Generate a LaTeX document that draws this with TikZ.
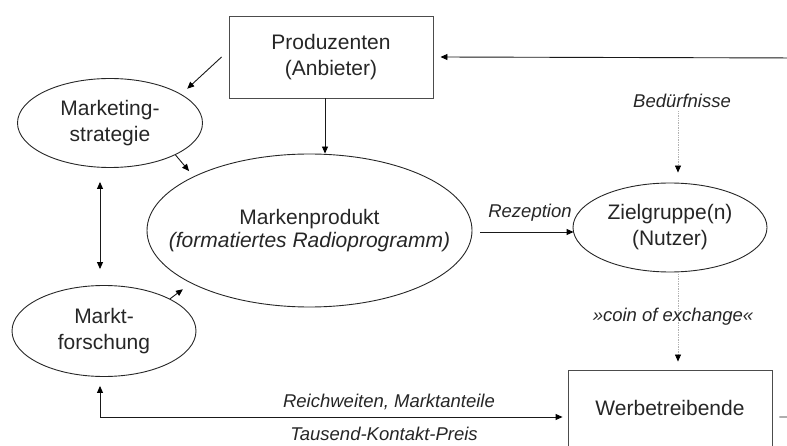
\documentclass[tikz,border=0pt]{standalone}
\usepackage{fontspec}
\setmainfont{Liberation Sans}
\usetikzlibrary{shapes.geometric,arrows.meta,calc}
\begin{document}
\begin{tikzpicture}[x=1pt,y=-1pt,
  every node/.style={font=\fontsize{21}{26}\selectfont, text=black!85},
  ell/.style={draw=black!85, ellipse, inner sep=0pt, line width=0.9pt, align=center},
  box/.style={draw=black!70, rectangle, inner sep=0pt, line width=0.9pt, align=center},
  lbl/.style={font=\fontsize{18.5}{22}\selectfont\itshape},
  tip/.tip={Triangle[length=7pt,width=6pt,color=black]},
  arr/.style={draw=black!90, line width=0.9pt, -tip},
  darr/.style={draw=black!90, line width=0.9pt, tip-tip},
  dotarr/.style={draw=gray!60, line width=0.7pt, densely dotted, -tip},
]
\useasboundingbox (0,0) rectangle (787,446);
\clip (0,0) rectangle (787,446);

% nodes
\node[box, minimum width=204pt, minimum height=82pt] (prod) at (331,57) {Produzenten\\(Anbieter)};
\node[ell, minimum width=185pt, minimum height=89pt] (ms) at (110,123) {Marketing-\\strategie};
\node[ell, minimum width=325pt, minimum height=153pt,
      label={[align=center, font=\fontsize{21}{23}\selectfont]center:Markenprodukt\\\textit{(formatiertes Radioprogramm)}}] (mp) at (309.5,230.5) {};
\node[ell, minimum width=184pt, minimum height=91pt] (mf) at (104,331) {Markt-\\forschung};
\node[ell, minimum width=194pt, minimum height=89pt] (zg) at (670,227.5) {Zielgruppe(n)\\(Nutzer)};
\node[box, minimum width=204pt, minimum height=76pt] (wb) at (670,408) {Werbetreibende};
\node[lbl] (bed) at (682,101) {Bedürfnisse};

% connectors
\draw[arr, shorten >=8pt] ($(prod.west)+(-7,0)$) -- (ms.22);
\draw[arr] ($(prod.south)+(-6,0)$) -- ($(mp.north)+(15.5,0)$);
\draw[arr, shorten >=7pt] (ms.-26) -- (mp.155);
\draw[arr, shorten >=10pt] (mf.26) -- (mp.204);
\draw[darr] ($(ms.south)+(-10,14)$) -- ($(mf.north)+(-4,-16)$);
\draw[arr] ($(mp.east)+(8,1.5)$) -- ($(zg.west)+(1,4.5)$)
  node[lbl, midway, anchor=base, yshift=14pt, xshift=3pt] {Rezeption};
\draw[dotarr] ($(bed.south)+(-4,0)$) -- ($(zg.north)+(8,-10)$);
\draw[dotarr] ($(zg.south)+(8,0)$) -- ($(wb.north)+(8,-8)$)
  node[lbl, midway, xshift=-5pt] {»coin of exchange«};
\draw[darr] ($(mf.south)+(-4,9)$) |- ($(wb.west)+(-5,9)$);
\node[lbl, anchor=base] at (389,407) {Reichweiten, Marktanteile};
\node[lbl, anchor=base] at (384,440) {Tausend-Kontakt-Preis};
\draw[arr] ($(wb.east)+(7,9)$) -- (800,417) -- (800,58) -- ($(prod.east)+(7,0)$);
\end{tikzpicture}
\end{document}
